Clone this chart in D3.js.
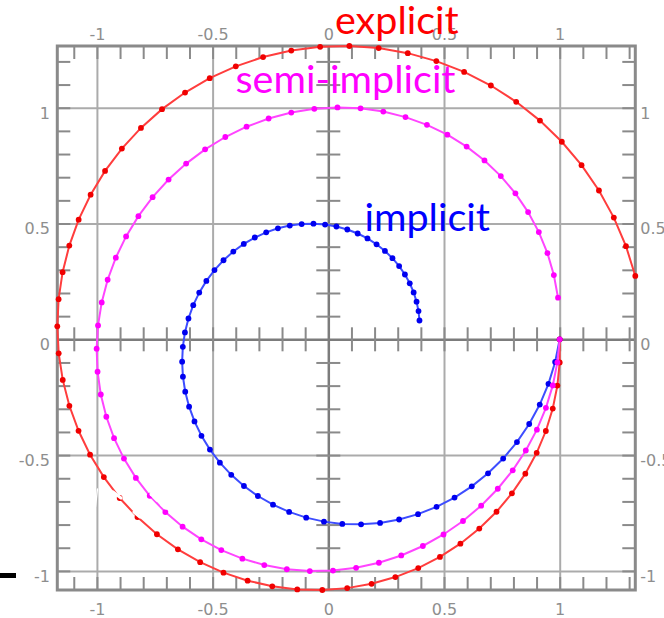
<!DOCTYPE html>
<html>
<head>
<meta charset="utf-8">
<script src="https://cdn.jsdelivr.net/npm/d3@7"></script>
<style>
  html, body { margin: 0; padding: 0; background: #fff; overflow: hidden; }
  svg { display: block; }
</style>
</head>
<body>
<svg id="chart" width="664" height="618"></svg>
<script>
// Harmonic oscillator x'' = -x, step h = 0.1, 61 steps from (1, 0): phase-space points (x, v)
const explicitX = [1, 1, 0.99, 0.97, 0.9401, 0.9005, 0.8515, 0.7935, 0.7270, 0.6525, 0.5708, 0.4825, 0.3886, 0.2898, 0.1871, 0.0816, -0.0259, -0.1341, -0.2421, -0.3488, -0.4530, -0.5538, -0.6500, -0.7407, -0.8248, -0.9016, -0.9701, -1.0296, -1.0794, -1.1190, -1.1477, -1.1652, -1.1712, -1.1656, -1.1483, -1.1193, -1.0789, -1.0272, -0.9648, -0.8921, -0.8097, -0.7185, -0.6191, -0.5125, -0.3998, -0.2819, -0.1600, -0.0353, 0.0910, 0.2176, 0.3434, 0.4669, 0.5870, 0.7025, 0.8121, 0.9147, 1.0091, 1.0944, 1.1696, 1.2339, 1.2864, 1.3267];
const explicitY = [0, -0.1, -0.2, -0.299, -0.396, -0.4900, -0.5801, -0.6652, -0.7446, -0.8173, -0.8825, -0.9396, -0.9878, -1.0267, -1.0557, -1.0744, -1.0825, -1.0800, -1.0665, -1.0423, -1.0075, -0.9622, -0.9068, -0.8418, -0.7677, -0.6852, -0.5951, -0.4981, -0.3951, -0.2871, -0.1753, -0.0605, 0.0560, 0.1732, 0.2897, 0.4046, 0.5165, 0.6244, 0.7271, 0.8236, 0.9128, 0.9938, 1.0656, 1.1275, 1.1788, 1.2188, 1.2469, 1.2629, 1.2665, 1.2574, 1.2356, 1.2013, 1.1546, 1.0959, 1.0256, 0.9444, 0.8530, 0.7520, 0.6426, 0.5256, 0.4023, 0.2736];

const semiX = [1, 0.99, 0.9701, 0.9405, 0.9015, 0.8535, 0.7969, 0.7324, 0.6605, 0.5821, 0.4978, 0.4086, 0.3152, 0.2187, 0.1201, 0.0202, -0.0799, -0.1792, -0.2767, -0.3714, -0.4624, -0.5488, -0.6297, -0.7043, -0.7718, -0.8317, -0.8832, -0.9259, -0.9593, -0.9832, -0.9972, -1.0012, -0.9952, -0.9793, -0.9536, -0.9183, -0.8739, -0.8207, -0.7593, -0.6903, -0.6144, -0.5324, -0.4451, -0.3533, -0.2579, -0.1600, -0.0605, 0.0396, 0.1394, 0.2377, 0.3336, 0.4263, 0.5146, 0.5978, 0.6750, 0.7455, 0.8086, 0.8635, 0.9098, 0.9470, 0.9747, 0.9927];
const semiY = [0, -0.1, -0.199, -0.2960, -0.3901, -0.4802, -0.5656, -0.6452, -0.7185, -0.7845, -0.8428, -0.8925, -0.9334, -0.9649, -0.9868, -0.9988, -1.0008, -0.9928, -0.9749, -0.9472, -0.9101, -0.8638, -0.8090, -0.7460, -0.6756, -0.5984, -0.5152, -0.4269, -0.3343, -0.2384, -0.1401, -0.0403, 0.0598, 0.1593, 0.2572, 0.3526, 0.4444, 0.5318, 0.6139, 0.6898, 0.7588, 0.8203, 0.8735, 0.9180, 0.9534, 0.9791, 0.9951, 1.0012, 0.9972, 0.9833, 0.9595, 0.9262, 0.8835, 0.8321, 0.7723, 0.7048, 0.6302, 0.5494, 0.4630, 0.3721, 0.2774, 0.1799];

const implicitX = [1, 0.9803, 0.9514, 0.9138, 0.8682, 0.8152, 0.7557, 0.6903, 0.6200, 0.5455, 0.4678, 0.3877, 0.3060, 0.2237, 0.1416, 0.0605, -0.0188, -0.0956, -0.1692, -0.2390, -0.3043, -0.3646, -0.4195, -0.4686, -0.5116, -0.5482, -0.5783, -0.6016, -0.6183, -0.6283, -0.6317, -0.6287, -0.6196, -0.6044, -0.5837, -0.5578, -0.5270, -0.4919, -0.4529, -0.4105, -0.3653, -0.3177, -0.2684, -0.2178, -0.1665, -0.1151, -0.0641, -0.0139, 0.0350, 0.0821, 0.1269, 0.1692, 0.2086, 0.2447, 0.2773, 0.3061, 0.3311, 0.3520, 0.3688, 0.3814, 0.3898, 0.3940];
const implicitY = [0, -0.0980, -0.1922, -0.2817, -0.3657, -0.4436, -0.5148, -0.5787, -0.6350, -0.6832, -0.7233, -0.7549, -0.7780, -0.7927, -0.7990, -0.7971, -0.7873, -0.7700, -0.7454, -0.7142, -0.6767, -0.6335, -0.5853, -0.5326, -0.4762, -0.4166, -0.3547, -0.2910, -0.2263, -0.1612, -0.0965, -0.0326, 0.0296, 0.0898, 0.1473, 0.2016, 0.2523, 0.2990, 0.3413, 0.3790, 0.4118, 0.4395, 0.4620, 0.4792, 0.4911, 0.4977, 0.4992, 0.4956, 0.4872, 0.4742, 0.4568, 0.4354, 0.4102, 0.3817, 0.3502, 0.3161, 0.2799, 0.2419, 0.2026, 0.1625, 0.1219, 0.0813];

// Labelled grid values and their printed labels
const gridValues = [-1, -0.5, 0.5, 1];
const labelValues = [-1, -0.5, 0, 0.5, 1];
const labelTexts = ["-1", "-0.5", "0", "0.5", "1"];

const seriesNames = ["implicit", "explicit", "semi-implicit"];

const svg = d3.select("#chart");

// The plot window spans exactly the explicit trajectory
const x = d3.scaleLinear().domain(d3.extent(explicitX)).range([57.3, 635.3]);
const y = d3.scaleLinear().domain(d3.extent(explicitY)).range([590, 46]);
const [x0, x1] = x.range();
const [y0, y1] = y.range();

const minorX = x.ticks(25);
const minorY = y.ticks(25);
const fmt = d => labelTexts[labelValues.indexOf(d)];

const FRAME = "#8a8a8a", GRID = "#ababab", AXIS = "#7c7c7c", LABEL = "#8e8e8e";

// ---- grid lines ----
svg.append("g")
  .attr("transform", `translate(0,${y0})`)
  .call(d3.axisBottom(x).tickValues(gridValues).tickSize(-(y0 - y1)).tickFormat(""))
  .call(g => g.select(".domain").remove())
  .selectAll("line").attr("stroke", GRID).attr("stroke-width", 2);

svg.append("g")
  .attr("transform", `translate(${x0},0)`)
  .call(d3.axisLeft(y).tickValues(gridValues).tickSize(-(x1 - x0)).tickFormat(""))
  .call(g => g.select(".domain").remove())
  .selectAll("line").attr("stroke", GRID).attr("stroke-width", 2);

// ---- inner tick marks on the four edges ----
function edgeTicks(axis, tx, ty) {
  svg.append("g")
    .attr("transform", `translate(${tx},${ty})`)
    .call(axis.tickSize(-13).tickFormat(""))
    .call(g => g.select(".domain").remove())
    .selectAll("line").attr("stroke", FRAME).attr("stroke-width", 2);
}
edgeTicks(d3.axisTop(x).tickValues(minorX), 0, y1);
edgeTicks(d3.axisBottom(x).tickValues(minorX), 0, y0);
edgeTicks(d3.axisLeft(y).tickValues(minorY), x0, 0);
edgeTicks(d3.axisRight(y).tickValues(minorY), x1, 0);

// ---- axes through the origin, ticks on both sides ----
svg.append("g")
  .attr("transform", `translate(0,${y(0)})`)
  .call(d3.axisBottom(x).tickValues(minorX.filter(d => Math.abs(d) > 1e-9)).tickSize(12).tickSizeOuter(0).tickFormat(""))
  .call(g => g.select(".domain").attr("stroke", AXIS).attr("stroke-width", 2.5))
  .call(g => g.selectAll(".tick line").attr("y1", -12).attr("stroke", FRAME).attr("stroke-width", 2));

svg.append("g")
  .attr("transform", `translate(${x(0)},0)`)
  .call(d3.axisLeft(y).tickValues(minorY.filter(d => Math.abs(d) > 1e-9)).tickSize(12).tickSizeOuter(0).tickFormat(""))
  .call(g => g.select(".domain").attr("stroke", AXIS).attr("stroke-width", 2.5))
  .call(g => g.selectAll(".tick line").attr("x1", 12).attr("stroke", FRAME).attr("stroke-width", 2));

// ---- frame ----
svg.append("rect")
  .attr("x", x0).attr("y", y1)
  .attr("width", x1 - x0).attr("height", y0 - y1)
  .attr("fill", "none").attr("stroke", FRAME).attr("stroke-width", 3);

// ---- tick labels on all four sides ----
function labels(axis, tx, ty, dy) {
  const g = svg.append("g")
    .attr("transform", `translate(${tx},${ty})`)
    .call(axis.tickValues(labelValues).tickSize(0).tickFormat(fmt))
    .call(g => g.select(".domain").remove());
  g.attr("font-family", "'DejaVu Sans', sans-serif").attr("font-size", 16);
  g.selectAll("text").attr("fill", LABEL);
  if (dy !== undefined) g.selectAll("text").attr("dy", dy);
}
labels(d3.axisTop(x).tickPadding(6), 0, y1);
labels(d3.axisBottom(x).tickPadding(13.5), 0, y0);
labels(d3.axisLeft(y).tickPadding(7.3), x0, 0, "0.65em");
labels(d3.axisRight(y).tickPadding(5), x1, 0, "0.65em");

// ---- trajectories ----
const series = {
  "implicit":      { xs: implicitX, ys: implicitY, line: "#3d4dff", dot: "#0000f0" },
  "explicit":      { xs: explicitX, ys: explicitY, line: "#ff3d3d", dot: "#f00000" },
  "semi-implicit": { xs: semiX,     ys: semiY,     line: "#ff45ff", dot: "#ff00ff" }
};

const line = d3.line().x(d => x(d[0])).y(d => y(d[1]));

seriesNames.forEach(name => {
  const s = series[name];
  const pts = s.xs.map((v, i) => [v, s.ys[i]]);
  const g = svg.append("g").attr("class", name);
  g.append("path").datum(pts)
    .attr("d", line).attr("fill", "none")
    .attr("stroke", s.line).attr("stroke-width", 2);
  g.selectAll("circle").data(pts).join("circle")
    .attr("cx", d => x(d[0])).attr("cy", d => y(d[1]))
    .attr("r", 2.9).attr("fill", s.dot);
});

// faint white strokes crossing the lower-left arcs
const scratch = svg.append("g").attr("stroke", "#fff").attr("stroke-linecap", "round").attr("fill", "none");
[[[97.5, 489], [95.5, 507], 1.3],
 [[113, 492], [121, 498], 3.2],
 [[134, 512], [140, 517], 3.2],
 [[151, 494], [157, 500], 3.2],
 [[162, 505], [166, 508], 3.2]].forEach(([a, b, w]) => {
  scratch.append("line").attr("x1", a[0]).attr("y1", a[1]).attr("x2", b[0]).attr("y2", b[1]).attr("stroke-width", w);
});

// ---- series captions ----
const captions = [
  { name: "explicit",      color: "#ff0000", px: 335,   py: 34 },
  { name: "semi-implicit", color: "#ff00ff", px: 235.5, py: 93 },
  { name: "implicit",      color: "#0000ff", px: 364.5, py: 231 }
];
svg.append("g")
  .attr("font-family", "Lato, 'Open Sans', sans-serif")
  .attr("font-size", 39.5)
  .selectAll("text").data(captions).join("text")
  .attr("x", d => d.px).attr("y", d => d.py)
  .attr("fill", d => d.color)
  .text(d => d.name);

// short black bar at the lower-left margin
svg.append("rect").attr("x", 0).attr("y", 573).attr("width", 16).attr("height", 5).attr("fill", "#000");
</script>
</body>
</html>
